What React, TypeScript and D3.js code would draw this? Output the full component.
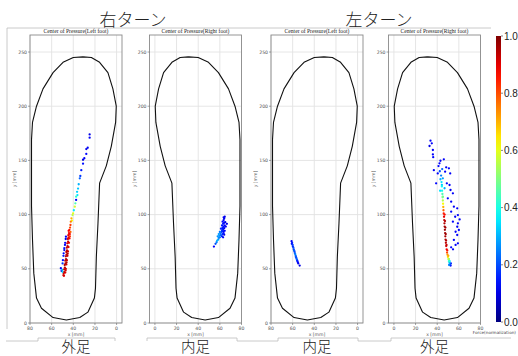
import React from 'react';
import * as d3 from 'd3';

// canvas
const W = 518;
const H = 356;

const xTicks = [0, 20, 40, 60, 80];
const yTicks = [0, 50, 100, 150, 200, 250];
const cbTicks = [0, 0.2, 0.4, 0.6, 0.8, 1.0];

const turnTitles = ['右ターン', '左ターン'];
const panelTitles = [
  'Center of Pressure(Left foot)',
  'Center of Pressure(Right foot)',
  'Center of Pressure(Left foot)',
  'Center of Pressure(Right foot)',
];
const footLabels = ['外足', '内足', '内足', '外足'];

// insole outline in mm (same for both feet, axis is flipped for the left foot)
const footOutline: [number, number][] = [
  [31, 245.5], [40, 245], [49.5, 240.5], [58.7, 231], [68, 216], [74, 200], [77.7, 185],
  [78.6, 169], [78.6, 138], [78.6, 108], [77.7, 77], [76.5, 46], [74, 23], [69.4, 13.6],
  [58.7, 5], [46.4, 2.8], [34, 5], [26.5, 10], [20.5, 23], [19.5, 32], [18.7, 61],
  [17.2, 92], [15.7, 129], [9.5, 145], [4.9, 163], [0.9, 185], [0.3, 200], [3.4, 216],
  [8, 231], [15.7, 240.5], [23.3, 245], [31, 245.5],
];

// [x mm, y mm, force]
const copRightTurnLeft: [number, number, number][] = [
  [24.9, 174, 0.1], [24.9, 171, 0.12], [26.7, 161.7, 0.12], [28, 160.5, 0.1], [28, 156, 0.13],
  [29.8, 152, 0.12], [31, 150.6, 0.1], [31, 147, 0.14], [32.6, 141, 0.15], [33.5, 135.6, 0.18],
  [34, 133.5, 0.22], [35, 128, 0.3], [35.6, 124, 0.32], [36.5, 121, 0.33], [36.2, 118, 0.35],
  [37.4, 116.5, 0.42], [37.4, 113.5, 0.12], [38.1, 110.4, 0.45], [38.6, 107.3, 0.58],
  [39.5, 104, 0.36], [40.2, 101.2, 0.6], [40.7, 99.6, 0.55], [41.7, 96.6, 0.7], [41.2, 94.5, 0.62],
  [42.3, 93.5, 0.75], [42.6, 90.4, 0.82], [43, 88, 0.8], [42.6, 84, 0.78], [43.1, 80, 0.82],
  [43.6, 86, 0.86], [44.3, 85, 0.88], [44, 83, 0.88], [44.6, 81, 0.9], [44.4, 79, 0.9],
  [45, 77.5, 0.91], [44.8, 75, 0.92], [45.5, 73.5, 0.92], [45.3, 71, 0.93], [46, 69.5, 0.93],
  [45.8, 67, 0.93], [46.4, 65.5, 0.94], [46.3, 63, 0.94], [46.9, 61.5, 0.94], [46.7, 59, 0.95],
  [47.4, 57.5, 0.94], [47.2, 55, 0.95], [47.9, 53.5, 0.94], [47.8, 51, 0.94], [48.4, 49.5, 0.93],
  [48.3, 47, 0.93], [48.9, 45.5, 0.92], [49.1, 44, 0.92],
  [43.2, 82, 0.87], [43.5, 78, 0.89], [44, 74, 0.9], [44.4, 70, 0.91], [44.9, 66, 0.92],
  [45.4, 62, 0.93], [45.9, 58, 0.93], [46.4, 54, 0.92], [46.9, 50, 0.91], [47.4, 46.5, 0.9],
  [48.6, 43.5, 0.9], [45.2, 64, 0.94], [46.2, 56, 0.94], [47.1, 48.5, 0.92],
  [46.8, 79.6, 0.12], [47, 77.5, 0.1], [47.5, 74, 0.13], [47.7, 72, 0.12], [48.3, 69, 0.14],
  [48.3, 67.3, 0.1], [48.9, 64.3, 0.12], [49.1, 62, 0.15], [49.6, 58, 0.13], [49.9, 55, 0.18],
  [51.5, 50.5, 0.12], [50.8, 48, 0.1], [50.2, 49, 0.3], [49.8, 47, 0.35],
];

const copRightTurnRight: [number, number, number][] = [
  [54.5, 70.5, 0.12], [56, 73, 0.2], [57, 74.5, 0.25], [57.5, 76, 0.3], [58.5, 77, 0.28],
  [59, 78.5, 0.26], [60, 79, 0.22], [59.5, 80.5, 0.27], [61, 81, 0.2], [60.5, 82.5, 0.24],
  [62, 80, 0.15], [63, 79, 0.12], [62.5, 82, 0.16], [63.5, 83, 0.13], [64, 81.5, 0.1],
  [61.5, 84, 0.18], [62, 85.5, 0.17], [63, 86, 0.14], [64.5, 85, 0.12], [61, 87, 0.16],
  [62.5, 88, 0.15], [63.5, 89, 0.13], [64, 87.5, 0.1], [65.5, 89, 0.12], [62, 90, 0.15],
  [63, 91.5, 0.14], [64, 92.5, 0.12], [62.5, 93.5, 0.13], [63.5, 95, 0.12], [64, 96.5, 0.1],
  [64.5, 98, 0.1], [63.5, 97.5, 0.12], [65, 93, 0.1], [66.5, 91.5, 0.1], [60, 84, 0.24],
  [59, 82, 0.28], [58, 80, 0.27], [63, 84.5, 0.13], [64.5, 90, 0.11], [62.8, 87, 0.14],
];

const copLeftTurnLeft: [number, number, number][] = [
  [61, 75.5, 0.12], [60.5, 74, 0.15], [60.8, 73, 0.12], [60, 72, 0.18], [59.8, 70.5, 0.15],
  [59.3, 69.5, 0.2], [59, 68, 0.17], [58.7, 67, 0.22], [58.3, 66, 0.18], [58, 64.5, 0.2],
  [57.6, 63.5, 0.25], [57.2, 62, 0.22], [57, 61, 0.18], [56.6, 60, 0.2], [56.3, 59, 0.22],
  [55.9, 58, 0.16], [55.6, 57, 0.14], [55.2, 56, 0.12], [54.8, 55, 0.1], [53.5, 53, 0.1],
];

const copLeftTurnRight: [number, number, number][] = [
  [33.8, 168.2, 0.12], [35, 165.8, 0.12], [32.9, 163.3, 0.1], [36, 159.6, 0.12], [36, 155.5, 0.12],
  [36.3, 153, 0.13], [43, 149.7, 0.12], [46.1, 151, 0.12], [42.1, 147.3, 0.12], [41.2, 144.8, 0.13],
  [36.9, 141, 0.12], [48.3, 143.6, 0.12], [50.8, 142.7, 0.12], [40.5, 138, 0.13], [47.3, 139.6, 0.12],
  [52, 138, 0.12], [39, 128.9, 0.13], [48.9, 128.9, 0.12], [51.4, 127.3, 0.12], [52.3, 122.7, 0.12],
  [54.5, 119.6, 0.12], [49.8, 115, 0.13], [52.9, 111.9, 0.12], [55.4, 107.3, 0.12], [52.9, 102.7, 0.13],
  [58.5, 105.8, 0.12], [59.1, 99.6, 0.12], [56.6, 98, 0.12], [60.7, 95.6, 0.12], [59.1, 92, 0.12],
  [58.5, 88.8, 0.12], [54.5, 93.5, 0.13], [57, 84.2, 0.12], [58.5, 81.2, 0.12], [60, 85.8, 0.12],
  [55.4, 76.6, 0.12], [57, 72, 0.12], [59.1, 73.5, 0.12], [52.9, 69.8, 0.13], [54.6, 68, 0.12],
  [43, 132.6, 0.3], [45.2, 133.5, 0.28], [44.3, 127.3, 0.32], [46.8, 124.3, 0.3], [42.7, 122, 0.35],
  [45.2, 116.5, 0.45], [43.6, 136, 0.25], [42.4, 140, 0.2], [44.6, 142, 0.22],
  [44, 130, 0.35], [44.3, 126, 0.38], [44.5, 122, 0.4], [44.8, 119, 0.45], [45, 116, 0.5],
  [45.2, 113, 0.55], [45.4, 110, 0.62], [45.6, 107, 0.7], [45.8, 104, 0.78], [46, 101, 0.85],
  [46.3, 98, 0.9], [46.5, 95, 0.93], [46.7, 92, 0.95], [46.9, 89, 0.96], [47.1, 86, 0.97],
  [47.3, 83, 0.97], [47.5, 80, 0.96], [47.7, 77, 0.95], [48, 74, 0.94], [48.3, 71, 0.92],
  [48.7, 68, 0.88], [49.1, 65, 0.8], [49.5, 63, 0.72], [49.9, 61, 0.65], [50.3, 59, 0.55],
  [50.8, 57, 0.42], [51.3, 55.5, 0.3], [51.8, 54, 0.2], [52.4, 53, 0.12],
  [46.9, 100, 0.86], [47.2, 94, 0.95], [47.6, 88, 0.97], [47.9, 82, 0.97], [48.2, 76, 0.95],
  [48.6, 72, 0.93], [49.3, 67, 0.85], [50.3, 62, 0.7], [50.9, 59, 0.5], [51.5, 57, 0.35],
  [52.6, 55, 0.15], [51, 53.5, 0.25],
];

const panels = [
  { left: 30, reversed: true, points: copRightTurnLeft },
  { left: 149.5, reversed: false, points: copRightTurnRight },
  { left: 271, reversed: true, points: copLeftTurnLeft },
  { left: 388.5, reversed: false, points: copLeftTurnRight },
];

const jet = d3.scaleLinear<string>()
  .domain([0, 0.125, 0.375, 0.625, 0.875, 1])
  .range(['#00007f', '#0000ff', '#00ffff', '#ffff00', '#ff0000', '#7f0000'])
  .interpolate(d3.interpolateRgb)
  .clamp(true);

const TOP = 35;
const BOTTOM = 323;
const PW = 92;

const Panel = ({ idx }: { idx: number }) => {
  const p = panels[idx];
  const x = d3.scaleLinear()
    .domain(p.reversed ? [80, -5] : [-5, 80])
    .range([p.left, p.left + PW]);
  const y = d3.scaleLinear().domain([0, 265.7]).range([BOTTOM, TOP]);
  const line = d3.line<[number, number]>().x(d => x(d[0])).y(d => y(d[1]));
  const pts = [...p.points].sort((a, b) => a[2] - b[2]);
  const cx = p.left + PW / 2;
  return (
    <g>
      <rect x={p.left} y={TOP} width={PW} height={BOTTOM - TOP} fill="#fff" />
      {xTicks.map(t => (
        <line key={'gx' + t} x1={x(t)} x2={x(t)} y1={TOP} y2={BOTTOM} stroke="#e2e2e2" strokeWidth={0.9} />
      ))}
      {yTicks.map(t => (
        <line key={'gy' + t} x1={p.left} x2={p.left + PW} y1={y(t)} y2={y(t)} stroke="#e2e2e2" strokeWidth={0.9} />
      ))}
      <path d={line(footOutline) || ''} fill="none" stroke="#111" strokeWidth={1.1} strokeLinejoin="round" />
      {pts.map((d, i) => (
        <circle key={i} cx={x(d[0])} cy={y(d[1])} r={1.15} fill={jet(d[2])} />
      ))}
      <rect x={p.left} y={TOP} width={PW} height={BOTTOM - TOP} fill="none" stroke="#8a8a8a" strokeWidth={0.9} />
      {xTicks.map(t => (
        <g key={'tx' + t}>
          <line x1={x(t)} x2={x(t)} y1={BOTTOM} y2={BOTTOM + 2} stroke="#666" strokeWidth={0.6} />
          <text x={x(t)} y={329.5} fontSize={4.6} fill="#555" textAnchor="middle" fontFamily="DejaVu Sans">{t}</text>
        </g>
      ))}
      {yTicks.map(t => (
        <g key={'ty' + t}>
          <line x1={p.left - 2} x2={p.left} y1={y(t)} y2={y(t)} stroke="#666" strokeWidth={0.6} />
          <text x={p.left - 3} y={y(t) + 1.6} fontSize={4.6} fill="#555" textAnchor="end" fontFamily="DejaVu Sans">{t}</text>
        </g>
      ))}
      <text x={cx} y={335.5} fontSize={4.6} fill="#555" textAnchor="middle" fontFamily="DejaVu Sans">x [mm]</text>
      <text transform={`translate(${p.left - 14},179) rotate(-90)`} fontSize={4.6} fill="#555" textAnchor="middle" fontFamily="DejaVu Sans">y [mm]</text>
      <text x={cx} y={33} fontSize={5.6} fill="#222" textAnchor="middle" fontFamily="Liberation Serif">{panelTitles[idx]}</text>
      <text x={cx} y={352} fontSize={14.5} fill="#222" textAnchor="middle" fontFamily="Noto Sans CJK JP" fontWeight={300}>{footLabels[idx]}</text>
    </g>
  );
};

const App = () => {
  const cbY = d3.scaleLinear().domain([0, 1]).range([322, 36]);
  const stops = d3.range(0, 1.0001, 0.05);
  return (
    <svg width={W} height={H} style={{ position: 'absolute', left: 0, top: 0, background: '#fff' }}>
      <defs>
        <linearGradient id="jetGrad" x1="0" y1="1" x2="0" y2="0">
          {stops.map(s => <stop key={s} offset={s} stopColor={jet(s)} />)}
        </linearGradient>
      </defs>
      <rect width={W} height={H} fill="#fff" />
      {/* picture frame lines */}
      <g stroke="#bdbdbd" strokeWidth={0.8} fill="none">
        <polyline points="7,329 7,28 491,28" />
        <polyline points="6,341 38,341 38,338 115,338 115,341" />
        <polyline points="147,341 147,338 237,338 237,341 278,341 278,338 358,338 358,341 391,341 391,338 511,338" />
      </g>
      <text x={133} y={26} fontSize={17} textAnchor="middle" fill="#222" fontFamily="Noto Sans CJK JP" fontWeight={300}>{turnTitles[0]}</text>
      <text x={379} y={26} fontSize={17} textAnchor="middle" fill="#222" fontFamily="Noto Sans CJK JP" fontWeight={300}>{turnTitles[1]}</text>
      {panels.map((_, i) => <Panel key={i} idx={i} />)}
      <rect x={496} y={36} width={5} height={286} fill="url(#jetGrad)" />
      {cbTicks.map(t => (
        <g key={t}>
          <line x1={501} x2={503} y1={cbY(t)} y2={cbY(t)} stroke="#333" strokeWidth={0.6} />
          <text x={504} y={cbY(t) + 3.5} fontSize={10} fill="#222" fontFamily="Liberation Sans">{t.toFixed(1)}</text>
        </g>
      ))}
      <text x={516} y={334} fontSize={4.2} fill="#444" textAnchor="end" fontFamily="DejaVu Sans">Force(normalization)</text>
    </svg>
  );
};

export default App;
